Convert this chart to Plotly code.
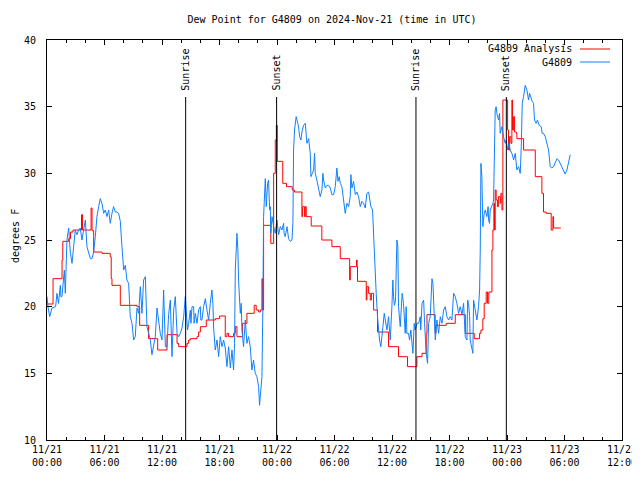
import pandas as pd
import plotly.graph_objects as go

BASE = pd.Timestamp("2024-11-21 00:00")

# Analysis series (step starts): hours since 11/21 00:00 UTC, dew point degF
analysis_hours = [0, 0.63, 1.57, 1.65, 2.26, 2.45, 2.71, 3.6, 3.7, 4.6, 4.7, 4.87, 5.74, 6.6, 6.7, 6.78,
                  7.65, 9.39, 9.67, 10.6, 11.55, 12.52, 13.57, 13.74, 14.61, 14.78, 14.96, 15.65, 15.82,
                  16.0, 16.62, 17.56, 18.01, 18.6, 18.78, 18.95, 19.47, 19.65, 19.82, 20.41, 20.86, 21.62,
                  21.83, 22.08, 22.26, 22.43, 22.5, 22.6, 23.35, 23.65, 23.82, 23.93, 24.03, 24.6, 24.99,
                  25.59, 25.82, 26.6, 26.67, 26.88, 26.95, 27.05, 27.57, 28.68, 29.73, 30.6, 31.58, 31.65,
                  32.3, 32.36, 32.4, 33.31, 33.38, 33.56, 33.73, 33.85, 34.08, 34.49, 35.64, 36.68, 37.62,
                  38.6, 39.13, 39.57, 39.65, 40.5, 40.58, 41.66, 42.6, 43.65, 44.58, 45.14, 45.28, 45.48,
                  45.62, 45.83, 45.97, 46.1, 46.43, 46.53, 46.63, 46.7, 46.77, 46.87, 47.0, 47.1, 47.29,
                  47.36, 47.47, 47.57, 48.06, 48.16, 48.27, 48.41, 48.51, 48.58, 48.69, 48.79, 48.97,
                  49.03, 49.73, 50.95, 51.64, 51.81, 52.09, 52.61, 52.79, 52.86, 53.62]
analysis_values = [20.2, 22.1, 23.5, 24.9, 25.1, 25.6, 25.75, 26.9, 25.75, 27.4, 25.7, 24.1, 24.0, 23.75, 22.1, 21.6,
                   20.1, 20.0, 18.6, 17.6, 16.75, 17.9, 17.25, 17.0, 17.25, 17.5, 17.6, 17.75, 18.1,
                   18.5, 19.0, 19.1, 19.3, 17.75, 18.0, 17.75, 18.0, 18.5, 17.75, 18.75, 19.5, 20.1,
                   19.75, 19.6, 19.75, 22.1, 19.75, 26.1, 24.75, 30.0, 32.5, 33.6, 30.9, 29.25, 29.0,
                   28.75, 28.6, 26.75, 27.5, 26.75, 27.5, 26.75, 26.05, 25.0, 24.5, 23.6, 22.0, 23.0,
                   23.5, 23.0, 21.9, 20.5, 21.5, 21.0, 20.5, 21.0, 19.75, 18.1, 17.0, 16.25, 15.5,
                   16.25, 16.5, 18.0, 19.4, 18.0, 18.6, 18.75, 19.4, 18.0, 17.6, 18.0, 18.25, 19.1,
                   20.25, 21.1, 20.25, 21.1, 24.25, 25.75, 27.75, 25.75, 28.75, 28.0, 27.5, 28.25, 27.75,
                   28.5, 27.25, 35.5, 33.25, 31.75, 32.75, 32.25, 35.5, 33.25, 34.25, 33.1, 33.0,
                   32.6, 31.75, 29.75, 28.5, 27.1, 27.0, 25.75, 26.75, 25.9, 25.9]

# Station series: hours since 11/21 00:00 UTC, dew point degF
station_hours = [0, 0.1, 0.28, 0.52, 0.9, 1.04, 1.2, 1.39, 1.45, 1.56, 1.81, 1.91, 2.08, 2.26, 2.43, 2.61,
                 2.78, 2.95, 3.13, 3.3, 3.47, 3.65, 3.82, 4.0, 4.17, 4.34, 4.52, 4.69, 4.87, 5.04, 5.21,
                 5.39, 5.56, 5.74, 5.91, 6.08, 6.26, 6.43, 6.6, 6.78, 6.95, 7.13, 7.3, 7.47, 7.65, 7.82,
                 8.0, 8.17, 8.34, 8.52, 8.69, 8.87, 9.04, 9.21, 9.39, 9.56, 9.74, 9.91, 10.08, 10.26,
                 10.43, 10.61, 10.78, 10.95, 11.13, 11.3, 11.48, 11.65, 11.82, 12.0, 12.17, 12.35, 12.52,
                 12.69, 12.87, 13.04, 13.22, 13.39, 13.57, 13.74, 13.91, 14.09, 14.26, 14.43,
                 14.61, 14.66, 14.78, 14.96, 15.02, 15.13, 15.3, 15.35, 15.48, 15.65, 15.82, 16.0, 16.05,
                 16.17, 16.34, 16.52, 16.69, 16.86, 17.04, 17.21, 17.31, 17.39, 17.56, 17.74, 17.91,
                 18.08, 18.26, 18.43, 18.6, 18.78, 18.95, 19.13, 19.3, 19.47, 19.57, 19.65, 19.82,
                 19.92, 19.99, 20.17, 20.27, 20.34, 20.51, 20.69, 20.86, 21.03, 21.21, 21.38, 21.55,
                 21.73, 21.9, 22.08, 22.18, 22.32, 22.43, 22.53, 22.6, 22.78, 22.88, 23.02, 23.12, 23.23,
                 23.3, 23.35, 23.48, 23.65, 23.82, 23.99, 24.17, 24.34, 24.52, 24.69, 24.74, 24.86,
                 25.04, 25.21, 25.38, 25.56, 25.66, 25.73, 25.83, 26.0, 26.14, 26.25, 26.36, 26.5,
                 26.6, 26.77, 26.95, 27.05, 27.12, 27.3, 27.4, 27.47, 27.54, 27.64, 27.82, 27.92,
                 27.99, 28.16, 28.34, 28.51, 28.69, 28.79, 28.86, 29.04, 29.21, 29.38, 29.56, 29.73,
                 29.91, 30.08, 30.25, 30.36, 30.49, 30.6, 30.77, 30.95, 31.12, 31.3, 31.47, 31.64,
                 31.71, 31.82, 31.99, 32.17, 32.34, 32.51, 32.69, 32.86, 33.03, 33.21, 33.38, 33.56,
                 33.66, 33.8, 33.97, 34.14, 34.35, 34.49, 34.6, 34.7, 34.84, 34.94, 35.05, 35.19,
                 35.29, 35.47, 35.64, 35.82, 35.99, 36.09, 36.16, 36.26, 36.37, 36.44, 36.51, 36.61,
                 36.68, 36.86, 36.96, 37.06, 37.2, 37.38, 37.48, 37.55, 37.72, 37.83, 37.97, 38.07,
                 38.18, 38.32, 38.42, 38.61, 38.78, 38.95, 39.0, 39.13, 39.3, 39.4, 39.57, 39.71,
                 39.82, 39.99, 40.17, 40.27, 40.41, 40.52, 40.69, 40.86, 41.04, 41.21, 41.39, 41.56,
                 41.73, 41.91, 42.08, 42.25, 42.43, 42.6, 42.77, 42.95, 43.12, 43.3, 43.47, 43.64,
                 43.82, 43.89, 43.99, 44.1, 44.16, 44.34, 44.44, 44.51, 44.69, 44.86, 45.03, 45.14,
                 45.21, 45.28, 45.38, 45.48, 45.62, 45.73, 45.9, 46.03, 46.08, 46.18, 46.25, 46.42,
                 46.53, 46.6, 46.7, 46.77, 46.87, 46.94, 47.12, 47.22, 47.29, 47.47, 47.64, 47.81,
                 47.92, 48.06, 48.2, 48.34, 48.51, 48.69, 48.86, 48.97, 49.03, 49.21, 49.38, 49.49,
                 49.59, 49.73, 49.9, 50.08, 50.25, 50.36, 50.49, 50.63, 50.77, 50.87, 51.04, 51.18,
                 51.36, 51.57, 51.67, 51.81, 51.99, 52.16, 52.34, 52.51, 52.69, 52.86, 53.03, 53.21,
                 53.38, 53.55, 53.73, 53.9, 54.07, 54.25, 54.42, 54.6]
station_values = [20.75, 20.0, 19.25, 19.9, 20.0, 21.0, 20.25, 21.6, 20.75, 20.75, 22.75, 21.0, 25.0, 25.9, 24.1, 23.25,
                  24.5, 25.75, 25.4, 25.75, 25.9, 25.0, 25.75, 26.5, 24.5, 24.1, 23.6, 23.6, 24.1, 25.25, 26.75,
                  27.5, 28.1, 27.75, 27.0, 27.25, 26.75, 27.25, 26.25, 27.0, 27.5, 27.1, 27.1, 27.0, 26.4, 24.5,
                  22.75, 23.1, 22.0, 21.75, 19.25, 18.75, 17.5, 17.75, 19.9, 19.5, 21.5, 19.5, 22.0, 22.25,
                  18.5, 18.0, 17.5, 16.4, 17.0, 17.75, 19.9, 18.75, 18.0, 17.5, 21.25, 17.0, 17.0,
                  19.4, 20.5, 16.25, 19.75, 20.75, 18.0, 17.75, 18.0, 18.4, 19.25, 20.75,
                  19.0, 18.25, 18.75, 19.75, 18.75, 20.0, 20.0, 18.75, 19.5, 18.75, 19.75, 20.0, 19.0,
                  19.0, 20.0, 20.6, 19.75, 19.0, 20.25, 21.25, 20.25, 18.4, 16.75, 17.5, 16.25,
                  17.75, 17.0, 17.5, 16.9, 15.5, 17.0, 15.4, 16.75, 15.25, 17.25, 22.75, 25.5,
                  24.25, 22.0, 19.5, 20.25, 18.25, 17.0, 19.0, 17.25, 17.75, 17.0, 15.25, 16.0,
                  15.0, 14.75, 14.0, 12.6, 13.75, 14.75, 20.25, 26.75, 29.6, 27.5, 29.25, 29.5, 27.25,
                  27.5, 25.5, 26.75, 26.0, 25.5, 26.5, 25.4, 26.0, 25.75, 26.25, 25.5, 25.25,
                  26.0, 25.1, 24.9, 25.0, 26.25, 31.75, 33.25, 34.25, 33.9, 33.5, 32.75, 32.5,
                  33.1, 33.6, 33.75, 33.0, 32.25, 32.6, 32.0, 31.5, 29.75, 30.0, 30.25, 31.5,
                  30.0, 29.5, 28.75, 28.25, 28.75, 30.0, 29.5, 28.9, 29.1, 29.1, 28.9, 28.4,
                  28.4, 29.0, 30.4, 29.4, 29.75, 29.25, 29.0, 27.75, 27.0, 27.75, 27.5, 28.25,
                  29.9, 28.9, 29.4, 28.4, 28.6, 28.25, 27.5, 27.9, 27.75, 27.4, 28.5, 28.6,
                  28.0, 27.5, 27.25, 24.0, 21.0, 19.25, 18.25, 17.5, 17.0, 18.0, 18.5, 19.5,
                  18.9, 18.25, 19.25, 17.5, 20.0, 22.0, 20.75, 20.1, 20.5, 22.5, 25.0, 24.5,
                  20.0, 18.5, 19.5, 21.0, 20.25, 18.0, 20.0, 18.0, 18.0, 17.5, 18.25, 17.0,
                  16.5, 18.75, 18.25, 18.75, 18.75, 19.25, 18.25, 20.25, 20.5, 18.75, 16.5, 15.75,
                  18.75, 19.25, 22.1, 21.75, 18.75, 17.5, 19.0, 18.0, 19.25, 18.75, 19.75, 20.0,
                  19.25, 19.0, 19.25, 19.0, 21.0, 20.75, 20.25, 19.5, 20.0, 19.4, 20.25, 17.75,
                  17.5, 20.5, 20.25, 19.25, 17.5, 16.75, 16.5, 20.5, 19.75, 19.0, 20.0, 21.25,
                  24.25, 30.75, 29.75, 26.0, 27.0, 27.25, 26.75, 27.5, 26.5, 26.25, 27.25, 27.5,
                  27.75, 28.0, 31.25, 34.75, 35.0, 34.5, 34.0, 34.5, 33.0, 33.5, 32.75, 32.25,
                  32.5, 31.75, 32.25, 31.75, 31.5, 31.0, 31.5, 30.5, 30.25, 30.5, 30.0, 32.0,
                  35.25, 35.75, 36.6, 36.25, 35.5, 36.0, 35.6, 35.4, 35.25, 34.0, 33.75, 34.0,
                  33.6, 33.5, 33.0, 33.0, 32.75, 32.25, 31.75, 30.5, 30.4, 30.5, 30.75, 31.1,
                  31.0, 30.75, 30.5, 30.25, 29.95, 30.25, 30.75, 31.4]

event_hours = [14.47, 23.96, 38.5, 47.93]
event_labels = ["Sunrise", "Sunset", "Sunrise", "Sunset"]

tick_hours = [0, 6, 12, 18, 24, 30, 36, 42, 48, 54, 60]
tick_labels = ["11/21<br>00:00", "11/21<br>06:00", "11/21<br>12:00", "11/21<br>18:00",
               "11/22<br>00:00", "11/22<br>06:00", "11/22<br>12:00", "11/22<br>18:00",
               "11/23<br>00:00", "11/23<br>06:00", "11/23<br>12:00"]

series_names = ["G4809 Analysis", "G4809"]
series_colors = ["#ff0000", "#1080ff"]


def to_time(hours):
    return [BASE + pd.Timedelta(hours=h) for h in hours]


FONT = "DejaVu Sans Mono"
fig = go.Figure()

fig.add_trace(go.Scatter(x=to_time(analysis_hours), y=analysis_values, mode="lines",
                         line=dict(color=series_colors[0], width=1, shape="hv"),
                         name=series_names[0], showlegend=False))
fig.add_trace(go.Scatter(x=to_time(station_hours), y=station_values, mode="lines",
                         line=dict(color=series_colors[1], width=1),
                         name=series_names[1], showlegend=False))

# target plot area in window pixels; the page body adds an 8px offset
OFF = 8
L, R, T, B = 47, 622, 40, 440
W, H = 640 - OFF, 480 - OFF


def px_x(p):
    return (p - L) / (R - L)


def px_y(p):
    return (B - p) / (B - T)


shapes = []
annotations = []
for h, lab in zip(event_hours, event_labels):
    t = BASE + pd.Timedelta(hours=h)
    shapes.append(dict(type="line", xref="x", yref="paper", x0=t, x1=t, y0=0, y1=px_y(97),
                       line=dict(color="black", width=1), layer="above"))
    annotations.append(dict(text=lab, x=t, xref="x", y=px_y(93), yref="paper", textangle=-90,
                            xanchor="center", yanchor="bottom", showarrow=False,
                            font=dict(family=FONT, size=10, color="black")))

# manual legend (text then line sample, gnuplot style)
for i, (nm, col) in enumerate(zip(series_names, series_colors)):
    yy = 49 + 13 * i
    annotations.append(dict(text=nm, x=px_x(574), xref="paper", y=px_y(yy), yref="paper",
                            xanchor="right", yanchor="middle", showarrow=False,
                            font=dict(family=FONT, size=10, color="black")))
    shapes.append(dict(type="line", xref="paper", yref="paper", x0=px_x(580), x1=px_x(610),
                       y0=px_y(yy), y1=px_y(yy), line=dict(color=col, width=1)))

annotations.append(dict(text="degrees F", x=px_x(15), xref="paper", y=px_y(236), yref="paper",
                        textangle=-90, xanchor="center", yanchor="middle", showarrow=False,
                        font=dict(family=FONT, size=10, color="black")))

fig.update_layout(
    width=W, height=H,
    margin=dict(l=L - OFF, r=W - (R - OFF), t=T - OFF, b=H - (B - OFF), pad=0, autoexpand=False),
    paper_bgcolor="white", plot_bgcolor="white",
    title=dict(text="Dew Point for G4809 on 2024-Nov-21 (time in UTC)",
               x=(332 - OFF) / W, xanchor="center", y=1 - (19 - OFF) / H, yanchor="middle",
               font=dict(family=FONT, size=10, color="black"), automargin=False),
    shapes=shapes, annotations=annotations,
    showlegend=False,
)

fig.update_xaxes(
    type="date", automargin=False,
    range=[BASE, BASE + pd.Timedelta(hours=60)],
    tickvals=to_time(tick_hours), ticktext=tick_labels,
    ticks="inside", ticklen=5, tickcolor="black", tickwidth=1,
    minor=dict(dtick=2 * 3600 * 1000, tick0=BASE, ticks="inside", ticklen=3,
               tickcolor="black", tickwidth=1, showgrid=False),
    showline=True, linecolor="black", linewidth=1, mirror="allticks",
    showgrid=False, zeroline=False,
    tickfont=dict(family=FONT, size=10, color="black"),
)
fig.update_yaxes(
    range=[10, 40], dtick=5, tick0=10, automargin=False,
    ticks="inside", ticklen=5, tickcolor="black", tickwidth=1,
    showline=True, linecolor="black", linewidth=1, mirror="allticks",
    showgrid=False, zeroline=False, ticklabelstandoff=8,
    tickfont=dict(family=FONT, size=10, color="black"),
)

fig.write_html("out.html")
